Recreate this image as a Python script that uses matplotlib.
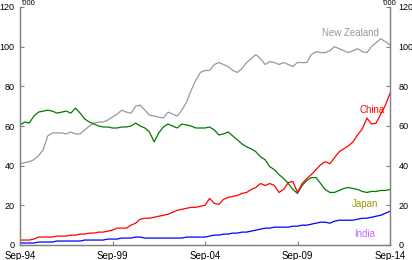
import matplotlib.pyplot as plt
import numpy as np

plt.rcParams['font.family'] = ['Liberation Sans', 'DejaVu Sans']

# quarterly, Sep-94 .. Sep-14 ('000)
tick_labels = ["Sep-94", "Sep-99", "Sep-04", "Sep-09", "Sep-14"]

new_zealand = [41, 41.5, 42, 43, 45, 48, 55, 56.5, 56.5, 56.5, 56, 57, 56, 56, 58, 60,
               61.5, 62, 62, 63, 64.5, 66, 68, 67, 66.5, 70, 70.5, 68, 65.5, 65, 64.5, 64,
               67, 66, 65, 68, 72, 78, 83, 87, 88, 88, 91, 92, 91, 90, 88, 87,
               89, 92, 94, 96, 94, 91, 92.5, 92, 91, 92, 91, 90, 92, 92, 92, 96,
               97.5, 97, 97, 98, 100, 99, 98, 97, 98, 99, 97.5, 97, 100, 102, 104, 102.5, 101]
japan = [60.5, 62, 61.5, 65, 67, 67.5, 68, 67.5, 66.5, 67, 67.5, 66.5, 69, 66.5, 63.5, 62,
         61, 60, 59.5, 59.5, 59, 59, 59.5, 59.5, 60, 61.5, 60, 59, 57, 52, 56.5, 59.5,
         61, 60, 59, 61, 60.5, 60, 59, 59, 59, 59.5, 58, 55.5, 56, 57, 55, 53,
         51, 49.5, 48.5, 47, 44.5, 43, 39.5, 38, 35.5, 33.5, 31, 28, 26, 30, 32.5, 34,
         34, 31, 28, 26.5, 26.5, 27.5, 28.5, 29, 28.5, 28, 27, 26.5, 27, 27, 27.5, 27.5, 28]
china = [2.5, 2.5, 2.5, 3, 4, 4, 4, 4, 4.5, 4.5, 4.5, 5, 5, 5.5, 5.5, 6,
         6, 6.5, 6.5, 7, 7.5, 8.5, 8.5, 8.5, 10, 11, 13, 13.5, 13.5, 14, 14.5, 15,
         15.5, 16.5, 17.5, 18, 18.5, 19, 19, 19.5, 20, 23.5, 21, 20.5, 23, 24, 24.5, 25,
         26, 26.5, 28, 29, 31, 30, 31, 30, 26.5, 28, 31.5, 32, 26.5, 31, 33.5, 35.5,
         38, 40.5, 42, 41, 44, 47, 48.5, 50, 52, 55.5, 58.5, 64, 61, 61.5, 66, 70.5, 76.5]
india = [1, 1, 1, 1, 1.5, 1.5, 1.5, 1.5, 2, 2, 2, 2, 2, 2, 2.5, 2.5,
         2.5, 2.5, 2.5, 3, 3, 3, 3.5, 3.5, 3.5, 4, 4, 3.5, 3.5, 3.5, 3.5, 3.5,
         3.5, 3.5, 3.5, 3.5, 4, 4, 4, 4, 4, 4.5, 5, 5, 5.5, 5.5, 6, 6,
         6.5, 6.5, 7, 7.5, 8, 8.5, 8.5, 9, 9, 9, 9, 9.5, 9.5, 10, 10, 10.5,
         11, 11.5, 11.5, 11, 12, 12.5, 12.5, 12.5, 12.5, 13, 13.5, 13.5, 14, 14.5, 15, 16, 17]

x = np.arange(len(china))

fig = plt.figure(figsize=(4.12, 2.6), dpi=100)
ax = fig.add_axes([20 / 412, 15 / 260, 370 / 412, 238 / 260])

ax.plot(x, new_zealand, color="#999999", lw=0.9)
ax.plot(x, japan, color="#007a00", lw=0.9)
ax.plot(x, china, color="#ff0000", lw=0.9)
ax.plot(x, india, color="#0000ff", lw=0.9)

ax.set_xlim(0, 80)
ax.set_ylim(0, 120)
ax.set_xticks([0, 20, 40, 60, 80])
ax.set_xticklabels(tick_labels)
ax.set_yticks(range(0, 121, 20))

ax2 = ax.twinx()
ax2.set_ylim(0, 120)
ax2.set_yticks(range(0, 121, 20))

for a in (ax, ax2):
    for s in ["left", "right", "bottom"]:
        a.spines[s].set_color("#808080")
        a.spines[s].set_linewidth(0.9)
    a.spines["top"].set_visible(False)
ax.tick_params(axis="both", direction="in", length=3, color="#808080")
ax.tick_params(axis="x", labelsize=7, pad=4)
ax.tick_params(axis="y", labelsize=6.5, pad=4)
ax2.tick_params(axis="y", direction="in", length=3, color="#808080", labelsize=6.5, pad=6)

ax.text(0.3, 122, "'000", fontsize=5.5, ha="left", va="center", color="black", clip_on=False)
ax.text(79.8, 122, "'000", fontsize=5.5, ha="center", va="center", color="black", clip_on=False)

ax.text(71.5, 107, "New Zealand", fontsize=7, color="#999999", ha="center", va="center")
ax.text(78.8, 68, "China", fontsize=7, color="#ff0000", ha="right", va="center")
ax.text(74.5, 20.5, "Japan", fontsize=7, color="#999900", ha="center", va="center")
ax.text(74.5, 5.5, "India", fontsize=7, color="#cc66ff", ha="center", va="center")

fig.savefig("out.png", dpi=100)
